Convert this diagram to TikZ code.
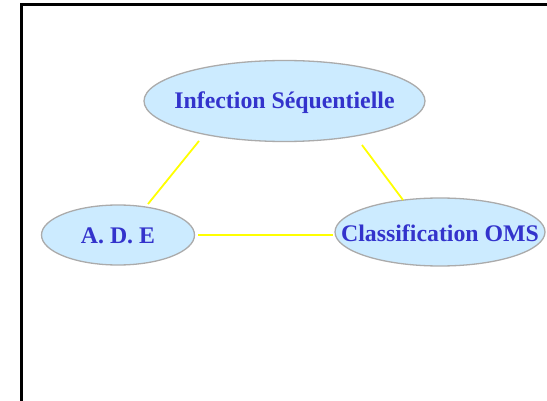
\documentclass[tikz,border=0pt]{standalone}
\usepackage{fontspec}
\setmainfont{Liberation Serif}
\usetikzlibrary{shapes.geometric}
\definecolor{txtblue}{HTML}{3333CC}
\definecolor{fillblue}{HTML}{CCEBFF}
\definecolor{edgegrey}{HTML}{ABABAB}
\definecolor{linkyellow}{HTML}{FFFF00}
\begin{document}
\begin{tikzpicture}[x=1pt,y=-1pt,
  bubble/.style={ellipse, draw=edgegrey, line width=1.3pt, fill=fillblue, inner sep=0pt},
  label text/.style={text=txtblue, inner sep=0pt, font=\fontsize{23.8}{26}\selectfont\bfseries},
  link/.style={draw=linkyellow, line width=1.8pt}]
\useasboundingbox (0,0) rectangle (547,401);
\begin{scope}
\clip (0,0) rectangle (547,401);
\draw[line width=3pt] (21.5,4.5) rectangle (600,450);
\end{scope}
\node[bubble, minimum width=281pt, minimum height=81pt] (inf) at (284.5,101) {};
\node[bubble, minimum width=153pt, minimum height=60pt] (ade) at (118,235) {};
\node[bubble, minimum width=210pt, minimum height=68pt] (oms) at (440,232) {};
\node[label text] (inft) at ([yshift=-2pt]inf.center) {Infection Séquentielle};
\node[label text] (adet) at ([yshift=-1pt]ade.center) {A. D. E};
\node[label text] (omst) at ([yshift=-1pt]oms.center) {Classification OMS};
\coordinate (a1) at (199,141);
\coordinate (a2) at (148,204);
\coordinate (b1) at (362,145);
\coordinate (b2) at (403,200);
\coordinate (c1) at (198,235);
\coordinate (c2) at (333,235);
\draw[link] (a1) -- (a2);
\draw[link] (b1) -- (b2);
\draw[link] (c1) -- (c2);
\end{tikzpicture}
\end{document}
